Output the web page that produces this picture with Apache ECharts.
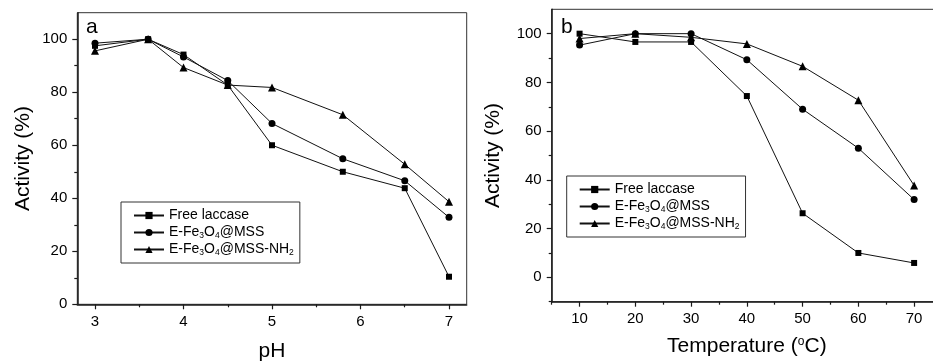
<!DOCTYPE html>
<html><head><meta charset="utf-8">
<script src="https://cdn.jsdelivr.net/npm/echarts@6/dist/echarts.min.js"></script>
<style>html,body{margin:0;padding:0;background:#fff}#c{width:933px;height:364px}</style>
</head><body><div id="c"></div>
<script>
const seriesNames = ['Free laccase', 'E-Fe3O4@MSS', 'E-Fe3O4@MSS-NH2'];
const pH = [3, 3.6, 4, 4.5, 5, 5.8, 6.5, 7];
const phFree = [97.5, 100, 94.2, 82.7, 60, 50, 43.8, 10.4];
const phMSS = [98.5, 100, 93.3, 84.4, 68.2, 54.9, 46.6, 32.8];
const phNH2 = [95.6, 100, 89.3, 82.7, 81.8, 71.5, 52.8, 38.7];
const temps = [10, 20, 30, 40, 50, 60, 70];
const tFree = [100, 96.6, 96.6, 74.4, 26.3, 10.0, 5.9];
const tMSS = [95.3, 100, 100, 89.3, 69.0, 53.0, 31.9];
const tNH2 = [98.0, 100, 98.5, 95.8, 86.6, 72.7, 37.7];
const phTicks = [3, 4, 5, 6, 7];
const phMinor = [3.5, 4.5, 5.5, 6.5];
const tTicks = [10, 20, 30, 40, 50, 60, 70];
const tMinor = [5, 15, 25, 35, 45, 55, 65];
const actTicks = [0, 20, 40, 60, 80, 100];
const actMinorA = [10, 30, 50, 70, 90];
const actMinorB = [-10, 10, 30, 50, 70, 90];

const FONT = '"Liberation Sans", Arial, sans-serif';
const AX = '#1a1a1a';

function mainAxis(gridIndex, min, max, ticks, name, nameGap, extra) {
  return Object.assign({
    type: 'value', gridIndex, min, max,
    name, nameLocation: 'middle', nameGap,
    nameTextStyle: { fontFamily: FONT, fontSize: 21, color: '#000',
      rich: { sup: { fontFamily: FONT, fontSize: 12, color: '#000', verticalAlign: 'top', lineHeight: 12 } } },
    axisLine: { show: true, onZero: false, lineStyle: { color: AX, width: 1.5 } },
    axisTick: { show: true, inside: false, length: 5, customValues: ticks, lineStyle: { color: AX, width: 1.2 } },
    axisLabel: { show: true, customValues: ticks, fontFamily: FONT, fontSize: 15, color: '#000', margin: 10 },
    splitLine: { show: false }
  }, extra || {});
}
function minorAxis(gridIndex, min, max, ticks, position) {
  return {
    type: 'value', gridIndex, min, max, position,
    axisLine: { show: false, onZero: false },
    axisTick: { show: true, inside: false, length: 3, customValues: ticks, lineStyle: { color: AX, width: 1.2 } },
    axisLabel: { show: false },
    splitLine: { show: false }
  };
}
const legendFmt = function (n) {
  if (n === 'E-Fe3O4@MSS') return 'E-Fe{s|3}O{s|4}@MSS';
  if (n === 'E-Fe3O4@MSS-NH2') return 'E-Fe{s|3}O{s|4}@MSS-NH{s|2}';
  return n;
};
function legend(left, top) {
  return {
    orient: 'vertical', left, top, data: seriesNames, selectedMode: false,
    itemWidth: 30, itemHeight: 9, itemGap: 2,
    padding: [6, 6, 6, 12],
    borderColor: '#333', borderWidth: 1, backgroundColor: '#fff',
    formatter: legendFmt,
    textStyle: { fontFamily: FONT, fontSize: 14, color: '#000', lineHeight: 15,
      rich: { s: { fontFamily: FONT, fontSize: 8.5, color: '#000', verticalAlign: 'bottom', lineHeight: 9 } } }
  };
}
const symbols = ['rect', 'circle', 'triangle'];
const sizes = [6, 7, 8];
function mkSeries(xs, ysList, xi, yi) {
  return ysList.map((ys, k) => ({
    type: 'line', name: seriesNames[k], xAxisIndex: xi, yAxisIndex: yi,
    data: xs.map((x, i) => [x, ys[i]]),
    symbol: symbols[k], symbolSize: sizes[k], showAllSymbol: true,
    lineStyle: { color: '#111', width: 1 },
    itemStyle: { color: '#000' },
    z: 3 - k, animation: false
  }));
}

const option = {
  animation: false,
  backgroundColor: '#fff',
  grid: [
    { left: 77.3, top: 12.7, width: 389.4, height: 291.6, show: true, borderColor: '#333', borderWidth: 1, outerBoundsMode: 'none', containLabel: false },
    { left: 551.7, top: 9.3, width: 390.3, height: 292.4, show: true, borderColor: '#333', borderWidth: 1, outerBoundsMode: 'none', containLabel: false }
  ],
  xAxis: [
    mainAxis(0, 2.8, 7.2, phTicks, 'pH', 36, { position: 'bottom' }),
    minorAxis(0, 2.8, 7.2, phMinor, 'bottom'),
    mainAxis(1, 5, 75, tTicks, 'Temperature ({sup|o}C)', 34, { position: 'bottom' }),
    minorAxis(1, 5, 75, tMinor, 'bottom')
  ],
  yAxis: [
    mainAxis(0, 0, 110, actTicks, 'Activity (%)', 44, { position: 'left' }),
    minorAxis(0, 0, 110, actMinorA, 'left'),
    mainAxis(1, -10, 110, actTicks, 'Activity (%)', 48, { position: 'left' }),
    minorAxis(1, -10, 110, actMinorB, 'left')
  ],
  legend: [legend(121, 202), legend(566.7, 176)],
  graphic: [
    { type: 'text', left: 86, top: 17, style: { text: 'a', fontFamily: FONT, fontSize: 21, fill: '#000' } },
    { type: 'text', left: 561, top: 17, style: { text: 'b', fontFamily: FONT, fontSize: 21, fill: '#000' } }
  ],
  series: [].concat(
    mkSeries(pH, [phFree, phMSS, phNH2], 0, 0),
    mkSeries(temps, [tFree, tMSS, tNH2], 2, 2)
  )
};
const chart = echarts.init(document.getElementById('c'), null, { renderer: 'canvas' });
chart.setOption(option);
</script>
</body></html>
